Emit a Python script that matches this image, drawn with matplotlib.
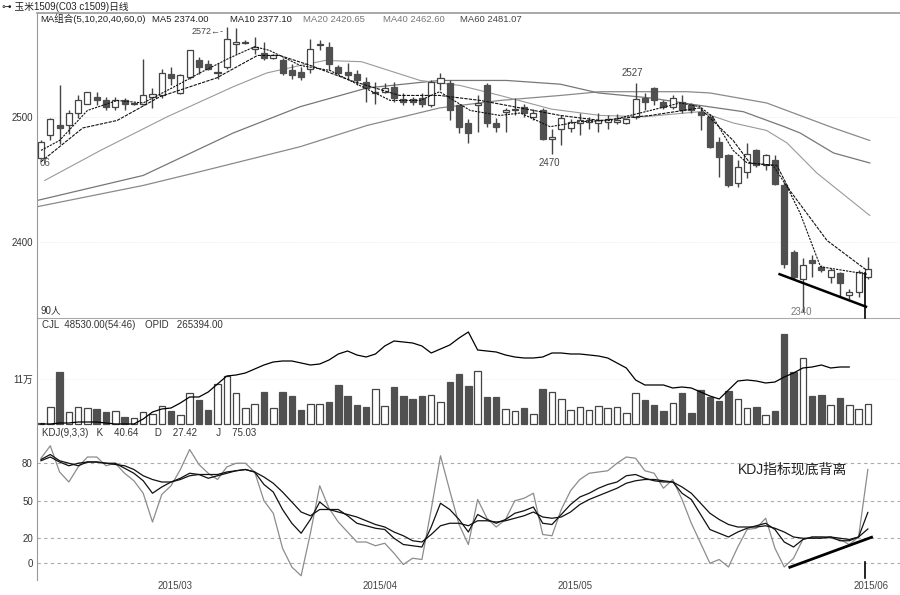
import numpy as np
import matplotlib
matplotlib.use('Agg')
import matplotlib.pyplot as plt

plt.rcParams['font.family'] = ['Liberation Sans', 'Noto Sans CJK SC', 'DejaVu Sans']
plt.rcParams['axes.unicode_minus'] = False

# ---------------- data ----------------
opens = [2467, 2485, 2493, 2493, 2503, 2510, 2516, 2513, 2508, 2513,
         2510, 2510, 2516, 2517, 2534, 2519, 2532, 2545, 2542, 2535,
         2540, 2558, 2559, 2554, 2551, 2547, 2545, 2537, 2536, 2538,
         2557, 2556, 2540, 2536, 2534, 2528, 2519, 2520, 2524, 2514,
         2514, 2515, 2509, 2527, 2527, 2509, 2495, 2509, 2525, 2495,
         2504, 2505.5, 2508, 2500, 2505, 2482, 2490, 2491, 2495, 2496,
         2495, 2496, 2496, 2495, 2500, 2515, 2523, 2512, 2508, 2512,
         2509, 2504, 2500, 2480, 2469, 2447, 2456, 2473, 2461, 2465,
         2445, 2392, 2370, 2385, 2380, 2372, 2375, 2357, 2360, 2372]
highs = [2481, 2499, 2525, 2505, 2517, 2520, 2520, 2516, 2516, 2515,
         2511, 2546, 2523, 2538, 2540, 2534, 2553, 2548, 2545, 2543,
         2572, 2571, 2561, 2564, 2560, 2550, 2547, 2542, 2540, 2562,
         2561, 2560, 2541, 2543, 2537, 2532, 2528, 2527, 2528, 2519,
         2516, 2519, 2529, 2535, 2529, 2510, 2498, 2517, 2527, 2499,
         2507, 2515, 2510, 2506, 2507, 2490, 2501, 2498, 2503, 2500,
         2503, 2501, 2502, 2499, 2527, 2519, 2524, 2513, 2517, 2517,
         2511, 2508, 2502, 2484, 2470, 2465, 2479, 2474, 2470, 2469,
         2448, 2393, 2387, 2389, 2381, 2379, 2376, 2362, 2377, 2388]
lows = [2466, 2481, 2478, 2486, 2499, 2510, 2509, 2505, 2505, 2505,
        2509, 2509, 2507, 2515, 2525, 2518, 2530, 2534, 2537, 2530,
        2538, 2550, 2558, 2550, 2545, 2546, 2533, 2530, 2529, 2535,
        2553, 2537, 2534, 2530, 2525, 2512, 2510, 2519, 2512, 2509,
        2509, 2508, 2508, 2521, 2497, 2487, 2479, 2488, 2492, 2488,
        2488, 2501, 2500, 2497, 2481, 2470, 2477, 2488, 2485, 2490,
        2488, 2490, 2494, 2494, 2498, 2505, 2509, 2506, 2506, 2503,
        2503, 2489, 2475, 2452, 2444, 2444, 2451, 2460, 2457, 2445,
        2379, 2370, 2344, 2372, 2376, 2367, 2356, 2354, 2356, 2370]
closes = [2480, 2498, 2491, 2503, 2513, 2520, 2513, 2508, 2513, 2510,
          2511, 2517, 2518, 2535, 2531, 2533, 2553, 2540, 2538, 2536,
          2562, 2560, 2560, 2556, 2547, 2549, 2535, 2533, 2532, 2554,
          2558, 2542, 2535, 2533, 2529, 2523, 2520, 2523, 2515, 2512,
          2512, 2510, 2528, 2531, 2505, 2492, 2487, 2511, 2495, 2492,
          2505, 2506.5, 2503, 2503, 2482, 2484, 2499, 2496, 2497, 2497,
          2497, 2498, 2497, 2498, 2514, 2512, 2513, 2508, 2515, 2505,
          2505, 2501, 2476, 2468, 2445, 2460, 2470, 2461, 2469, 2446,
          2382, 2372, 2381, 2383, 2377, 2377, 2367, 2360, 2376, 2378]

volume = [3000, 42000, 128000, 29000, 42000, 40000, 37000, 29000, 32000, 17000,
          15000, 29000, 24000, 44000, 32000, 22000, 75000, 59000, 34000, 97000,
          117000, 75000, 39000, 50000, 78000, 39000, 78000, 68000, 34000, 49000,
          49000, 54000, 95000, 68000, 46000, 41000, 85000, 44000, 90000, 68000,
          61000, 68000, 71000, 54000, 103000, 122000, 93000, 129000, 66000, 66000,
          37000, 32000, 39000, 24000, 86000, 78000, 61000, 34000, 41000, 34000,
          44000, 39000, 41000, 27000, 76000, 59000, 46000, 32000, 51000, 76000,
          27000, 83000, 66000, 56000, 81000, 61000, 39000, 42000, 22000, 32000,
          220000, 127000, 161000, 68000, 71000, 46000, 63000, 46000, 37000, 48530]

open_interest = [179900, 179900, 181400, 181400, 182900, 182900, 182900, 181400, 179900, 179900,
                 179900, 187400, 197900, 202400, 203900, 211400, 220400, 220400, 227900, 239900,
                 251900, 253400, 256400, 262400, 268400, 272900, 274400, 274400, 271400, 268400,
                 269900, 275900, 284900, 289400, 283400, 280400, 284900, 296900, 304400, 302900,
                 301400, 296900, 286400, 292400, 298400, 308900, 317900, 290900, 289400, 287900,
                 283400, 280400, 278900, 278900, 280400, 286400, 286400, 284900, 284900, 283400,
                 281900, 278900, 271400, 263900, 245900, 238400, 238400, 238400, 233900, 235400,
                 233900, 227900, 221900, 217400, 230900, 244400, 245900, 244400, 241400, 242900,
                 250400, 256400, 263900, 265394, 268400, 263900, 265394, 265394]

k_line = [83, 87, 82, 80, 78, 81, 81, 80, 80, 76,
          72, 66, 56, 61, 65, 68, 72, 71, 68, 70,
          72, 74, 75, 73, 63, 57, 43, 32, 24, 35,
          49, 43, 43, 38, 32, 30, 28, 27, 20, 15,
          14, 13, 29, 48, 43, 35, 25, 39, 35, 32,
          35, 40, 42, 45, 32, 31, 39, 47, 53, 56,
          60, 63, 65, 70, 71, 68, 66, 65, 65, 56,
          51, 39, 27, 24, 21, 25, 28, 30, 32, 27,
          17, 13, 19, 21, 21, 21, 18, 18, 21, 40.64]
d_line = [82, 85, 81, 78, 80, 81, 81, 80, 79, 78,
          75, 70, 67, 65, 65, 67, 70, 71, 71, 71,
          73, 74, 75, 73, 69, 64, 57, 49, 41, 38,
          43, 43, 41, 39, 37, 34, 31, 29, 25, 22,
          18, 17, 23, 30, 32, 32, 30, 34, 34, 33,
          34, 36, 38, 41, 37, 36, 37, 41, 47, 51,
          54, 57, 60, 64, 66, 67, 67, 66, 65, 61,
          56, 48, 40, 35, 31, 29, 29, 29, 30, 28,
          25, 21, 20, 20, 20, 21, 20, 19, 21, 27.42]
j_line = [84, 94, 73, 65, 77, 85, 85, 78, 80, 72,
          66, 56, 33, 55, 62, 75, 91, 79, 72, 67,
          77, 80, 80, 73, 50, 40, 12, -3, -10, 24,
          62, 44, 33, 25, 17, 17, 14, 16, 8, -1,
          4, 3, 43, 86, 58, 31, 15, 51, 36, 29,
          35, 50, 52, 56, 23, 22, 43, 58, 67, 72,
          73, 74, 80, 85, 84, 74, 72, 60, 67, 51,
          32, 16, 0, 3, -3, 13, 27, 28, 36, 12,
          -3, 4, 19, 21, 21, 20, 19, 15, 21, 75]

# moving averages, read at their visible vertices (bar number, price)
ma5_x = [0, 2.0, 5.0, 8.2, 11.0, 14.1, 17.1, 20.3, 23.0, 24.6, 27.9, 31.1, 34.3, 37.6, 40.8, 42.9,
         46.2, 49.4, 51.6, 54.8, 58.0, 61.2, 65.6, 68.8, 70.9, 72.3, 74.5, 76.0, 78.8, 80.3, 81.7, 83.9, 88.9]
ma5_y = [2473, 2481, 2505, 2513, 2511, 2523, 2535, 2547, 2556, 2553, 2541, 2537, 2525, 2513, 2513, 2520,
         2505, 2501, 2503, 2492, 2496, 2497, 2505, 2511, 2508, 2500, 2473, 2463, 2461, 2444, 2423, 2380, 2374]
ma10_x = [0, 4.5, 8.2, 12.8, 18.9, 23.3, 25.7, 29.0, 33.3, 38.6, 42.9, 47.3, 51.6, 55.9, 60.2, 65.6,
          70.9, 74.5, 76.3, 79.2, 80.6, 84.6, 88.9]
ma10_y = [2464, 2491, 2497, 2516, 2531, 2549, 2549, 2541, 2529, 2517, 2517, 2513, 2507, 2501, 2497, 2501,
          2507, 2481, 2463, 2461, 2441, 2401, 2377]
ma20_x = [0.4, 6.4, 13.6, 20.7, 24.3, 27.9, 30.6, 34.5, 40.8, 45.1, 49.4, 55.0, 60.2, 65.0, 70.9, 74.5,
          78.1, 80.3, 83.5, 89.2]
ma20_y = [2449, 2473, 2500, 2524, 2535, 2541, 2545, 2544, 2529, 2525, 2517, 2506, 2501, 2500, 2504, 2495,
          2489, 2479, 2455, 2421]
ma40_x = [-0.4, 11.0, 20.7, 27.9, 35.1, 42.9, 50.1, 55.9, 60.0, 65.6, 70.0, 75.6, 80.0, 81.7, 85.3, 89.2]
ma40_y = [2433, 2453, 2487, 2508, 2523, 2529, 2529, 2526, 2519, 2515, 2510, 2504, 2492, 2487, 2471, 2463]
ma60_x = [-0.4, 11.0, 17.1, 27.9, 35.1, 42.9, 49.4, 55.9, 60.2, 69.5, 72.0, 78.1, 81.7, 85.3, 89.2]
ma60_y = [2428, 2445, 2456, 2476, 2493, 2507, 2513, 2517, 2520, 2520, 2519, 2511, 2501, 2491, 2481]

# hand drawn divergence lines (start bar, end bar, start value, end value)
price_trend = [79.5, 88.8, 2374, 2348]
kdj_trend = [80.6, 89.4, -3.2, 20.8]

date_labels = ['2015/03', '2015/04', '2015/05', '2015/06']
date_pos = [14.4, 36.5, 57.5, 89.3]

# ---------------- figure ----------------
W, H = 900.0, 595.0
fig = plt.figure(figsize=(W / 100, H / 100), dpi=100)


def box(top, bottom):
    return [37 / W, 1 - bottom / H, 863 / W, (bottom - top) / H]


ax1 = fig.add_axes(box(13, 318))
ax2 = fig.add_axes(box(318, 428))
ax3 = fig.add_axes(box(428, 580))

n = len(closes)
idx = np.arange(n)
o = np.array(opens, float)
c = np.array(closes, float)
up = c >= o
dark = '#505050'
edge = '#444444'
txt = '#333333'

for ax in (ax1, ax2, ax3):
    ax.set_xlim(-0.43, 92.46)
    ax.set_xticks([])
    for s in ax.spines.values():
        s.set_visible(False)
    ax.spines['left'].set_visible(True)
    ax.spines['left'].set_color('#999999')
    ax.tick_params(axis='y', length=0, labelsize=7, labelcolor=txt, pad=3)
    ax.set_facecolor('none')

ax1.spines['top'].set_visible(True)
ax1.spines['top'].set_color('#999999')
ax1.spines['bottom'].set_visible(True)
ax1.spines['bottom'].set_color('#aaaaaa')
ax1.spines['top'].set_linewidth(1.2)

# ---------- price panel ----------
ax1.set_ylim(2338.96, 2582.96)
ax1.set_yticks([2400, 2500])
for lv in (2400, 2500):
    ax1.axhline(lv, color='#e2e2e2', lw=0.6, ls=(0, (1, 2)), zorder=0)

body_lo = np.minimum(o, c)
body_h = np.maximum(np.abs(c - o), 0.7)
ax1.vlines(idx, lows, highs, color=edge, lw=1, zorder=2)
ax1.bar(idx[up], body_h[up], 0.65, bottom=body_lo[up], facecolor='white',
        edgecolor=edge, lw=0.9, zorder=3)
ax1.bar(idx[~up], body_h[~up], 0.65, bottom=body_lo[~up], facecolor=dark,
        edgecolor=dark, lw=0.9, zorder=3)

ax1.plot(ma60_x, ma60_y, color='#8a8a8a', lw=0.9, zorder=1)
ax1.plot(ma40_x, ma40_y, color='#777777', lw=0.9, zorder=1)
ax1.plot(ma20_x, ma20_y, color='#9a9a9a', lw=0.8, zorder=1)
ax1.plot(ma10_x, ma10_y, color='#111111', lw=0.8, ls=(0, (3, 1)), zorder=4)
ax1.plot(ma5_x, ma5_y, color='#111111', lw=0.8, ls=(0, (2, 1)), zorder=4)

ax1.plot(price_trend[:2], price_trend[2:], color='black', lw=1.8, zorder=5)
ax1.plot([88.7, 88.7], [2375, 2338.96], color='black', lw=1.2, zorder=5, clip_on=False)

ax1.text(19.6, 2568.5, '2572←-', ha='right', va='center', fontsize=6.5, color='#444444')
ax1.text(54.7, 2467, '2470', ha='center', va='top', fontsize=7, color='#444444')
ax1.text(63.6, 2531, '2527', ha='center', va='bottom', fontsize=7, color='#444444')
ax1.text(81.8, 2343.5, '2340', ha='center', va='center', fontsize=7, color='#777777')
ax1.text(0.003, 2463, '06', transform=ax1.get_yaxis_transform(), ha='left',
         va='center', fontsize=7, color='#555555')
ax1.text(0.004, 0.025, '90人', transform=ax1.transAxes, ha='left', va='center',
         fontsize=7, color='#333333')

hdr = [('MA组合(5,10,20,40,60,0)', 40, '#222222'), ('MA5 2374.00', 152, '#222222'),
       ('MA10 2377.10', 230, '#222222'), ('MA20 2420.65', 303, '#777777'),
       ('MA40 2462.60', 383, '#777777'), ('MA60 2481.07', 460, '#444444')]
for s, px, col in hdr:
    fig.text(px / W, 1 - 19 / H, s, fontsize=6.8, color=col, ha='left', va='center')
fig.text(2 / W, 1 - 7 / H, '⊶ 玉米1509(C03 c1509)日线', fontsize=7, color='#222222',
         ha='left', va='center')

# ---------- volume panel ----------
ax2.set_ylim(-9776, 259064)
ax2.set_yticks([110000])
ax2.set_yticklabels(['11万'])
ax2.axhline(110000, color='#e6e6e6', lw=0.6, ls=(0, (1, 2)), zorder=0)
vol = np.array(volume, float)
ax2.bar(idx[up], vol[up], 0.7, facecolor='white', edgecolor=edge, lw=0.9)
ax2.bar(idx[~up], vol[~up], 0.7, facecolor=dark, edgecolor=dark, lw=0.9)
ax2b = ax2.twinx()
ax2b.set_xlim(-0.43, 92.46)
ax2b.set_ylim(173894, 338894)
ax2b.axis('off')
ax2b.plot(np.arange(len(open_interest)), open_interest, color='black', lw=0.9)
fig.text(42 / W, 1 - 325 / H, 'CJL  48530.00(54:46)', fontsize=7, color=txt, va='center')
fig.text(145 / W, 1 - 325 / H, 'OPID   265394.00', fontsize=7, color=txt, va='center')

# ---------- KDJ panel ----------
ax3.set_ylim(-13.4, 108.2)
ax3.set_yticks([0, 20, 50, 80])
for lv in (0, 20, 50, 80):
    ax3.axhline(lv, color='#aaaaaa', lw=0.8, ls=(0, (3, 3)), zorder=0)
ax3.plot(idx, j_line, color='#8c8c8c', lw=0.9)
ax3.plot(idx, d_line, color='#111111', lw=0.9)
ax3.plot(idx, k_line, color='#111111', lw=0.9)
ax3.plot(kdj_trend[:2], kdj_trend[2:], color='black', lw=2)
ax3.plot([88.7, 88.7], [1, -12], color='black', lw=1.2)
ax3.text(75.0, 75, 'KDJ指标现底背离', fontsize=10, color='#222222', ha='left', va='center')
fig.text(42 / W, 1 - 433 / H, 'KDJ(9,3,3)   K    40.64      D    27.42       J    75.03',
         fontsize=7, color=txt, va='center')

for lab, p in zip(date_labels, date_pos):
    x_fig = (37 + (p + 0.43) / (92.46 + 0.43) * 863) / W
    fig.text(x_fig, 1 - 586 / H, lab, fontsize=7, color='#444444', ha='center', va='center')

fig.savefig('out.png', dpi=100, facecolor='white')
